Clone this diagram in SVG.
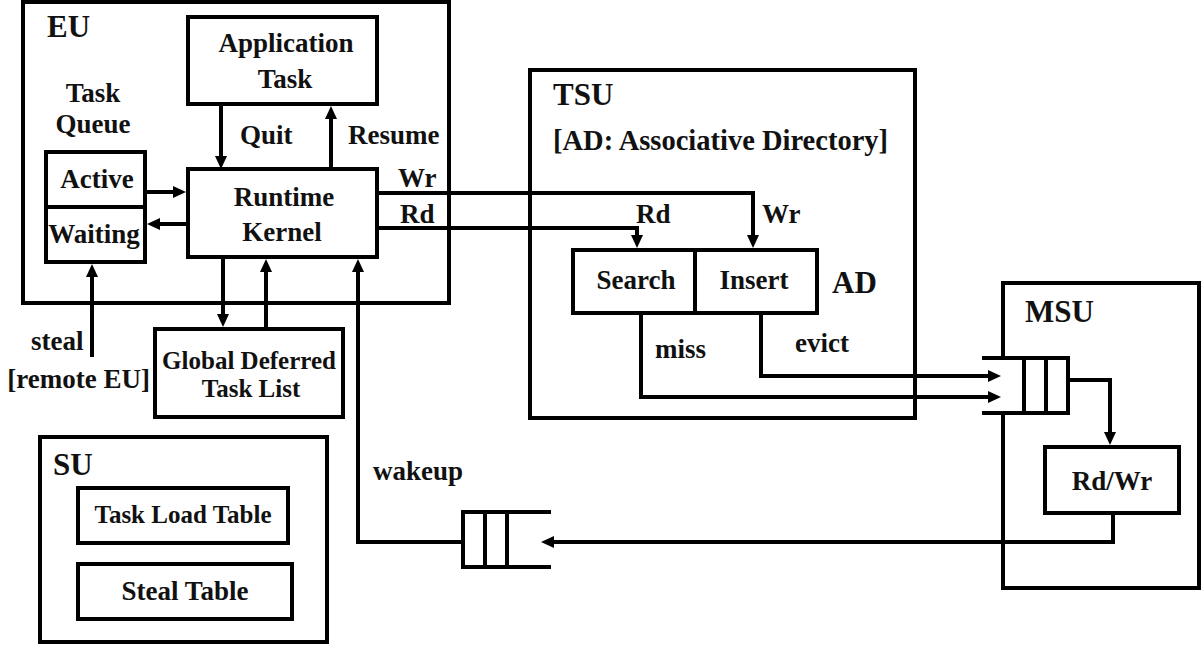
<svg xmlns="http://www.w3.org/2000/svg" width="1201" height="645" viewBox="0 0 1201 645">
  <style>
    .box { fill: none; stroke: #000; stroke-width: 4; }
    .wire { fill: none; stroke: #000; stroke-width: 4; }
    .arr { marker-end: url(#head); }
    text { font-family: "Liberation Serif", "Times New Roman", serif; font-weight: bold; fill: #111; font-size: 27px; }
    .big { font-size: 31px; }
    .small { font-size: 25px; }
    .mid { text-anchor: middle; }
  </style>
  <defs>
    <marker id="head" viewBox="0 0 13 12" markerWidth="13" markerHeight="12" refX="8" refY="6" orient="auto" markerUnits="userSpaceOnUse">
      <path d="M0,0 L13,6 L0,12 z" fill="#000"/>
    </marker>
  </defs>
  <rect width="1201" height="645" fill="#fff"/>

  <!-- Execution unit -->
  <g id="eu">
    <rect class="box" x="23" y="2" width="426" height="301"/>
    <text class="big" x="47" y="37">EU</text>
  </g>
  <g id="app-task">
    <rect class="box" x="188" y="17" width="189" height="87"/>
    <text class="mid" x="286" y="52">Application</text>
    <text class="mid" x="285" y="88">Task</text>
  </g>
  <g id="task-queue">
    <text class="mid" x="93" y="102">Task</text>
    <text class="mid" x="93" y="133">Queue</text>
    <rect class="box" x="46" y="152" width="99" height="110"/>
    <line class="wire" x1="46" y1="207" x2="145" y2="207"/>
    <text class="mid" x="97" y="188">Active</text>
    <text class="mid" x="94" y="243">Waiting</text>
  </g>
  <g id="kernel">
    <rect class="box" x="188" y="169" width="189" height="88"/>
    <text class="mid" x="284" y="206">Runtime</text>
    <text class="mid" x="282" y="241">Kernel</text>
  </g>
  <g id="deferred-list">
    <rect class="box" x="155" y="329" width="188" height="88"/>
    <text class="mid small" x="249" y="369">Global Deferred</text>
    <text class="mid small" x="251" y="397">Task List</text>
  </g>
  <g id="steal-src">
    <text x="31" y="350">steal</text>
    <text x="150" y="388" text-anchor="end">[remote EU]</text>
  </g>

  <!-- Steal unit -->
  <g id="su">
    <rect class="box" x="40" y="437" width="287" height="205"/>
    <text class="big" x="53" y="475">SU</text>
    <rect class="box" x="78" y="488" width="210" height="55"/>
    <text class="mid small" x="183" y="523">Task Load Table</text>
    <rect class="box" x="78" y="564" width="214" height="55"/>
    <text class="mid" x="185" y="600">Steal Table</text>
  </g>

  <!-- Task synchronisation unit -->
  <g id="tsu">
    <rect class="box" x="530" y="70" width="385" height="348"/>
    <text class="big" x="553" y="105">TSU</text>
    <text x="553" y="150" style="font-size:28.5px">[AD: Associative Directory]</text>
  </g>
  <g id="ad">
    <rect class="box" x="573" y="250" width="244" height="63"/>
    <line class="wire" x1="695" y1="250" x2="695" y2="313"/>
    <text class="mid" x="636" y="289">Search</text>
    <text class="mid" x="754" y="289">Insert</text>
    <text class="big" x="832" y="293">AD</text>
  </g>

  <!-- Memory system unit -->
  <g id="msu">
    <path class="box" d="M1003,358 V283 H1199 V588 H1003 V413"/>
    <text class="big" x="1025" y="322">MSU</text>
  </g>
  <g id="msu-queue">
    <path class="wire" d="M982,358 H1068 V413 H982 M1024,358 V413 M1046,358 V413"/>
  </g>
  <g id="rdwr">
    <rect class="box" x="1045" y="447" width="134" height="66"/>
    <text class="mid" x="1112" y="490">Rd/Wr</text>
  </g>
  <g id="wake-queue">
    <path class="wire" d="M551,512 H463 V567 H551 M485,512 V567 M507,512 V567"/>
  </g>

  <!-- Connectors -->
  <g id="connectors">
    <path class="wire arr" d="M221,106 V164"/>
    <path class="wire arr" d="M331,167 V111"/>
    <path class="wire arr" d="M147,192 H181"/>
    <path class="wire arr" d="M186,224 H152"/>
    <path class="wire arr" d="M379,193 H753 V243"/>
    <path class="wire arr" d="M379,228 H637 V243"/>
    <path class="wire arr" d="M641,315 V397 H996"/>
    <path class="wire arr" d="M761,315 V376 H996"/>
    <path class="wire arr" d="M1070,380 H1110 V440"/>
    <path class="wire arr" d="M1113,515 V542 H546"/>
    <path class="wire arr" d="M463,542 H358 V264"/>
    <path class="wire arr" d="M92,357 V269"/>
    <path class="wire arr" d="M223,259 V322"/>
    <path class="wire arr" d="M266,327 V264"/>
    <text x="240" y="144">Quit</text>
    <text x="348" y="144">Resume</text>
    <text x="398" y="187">Wr</text>
    <text x="400" y="223">Rd</text>
    <text x="636" y="223">Rd</text>
    <text x="762" y="223">Wr</text>
    <text x="655" y="358">miss</text>
    <text x="795" y="352">evict</text>
    <text x="373" y="480">wakeup</text>
  </g>
</svg>
